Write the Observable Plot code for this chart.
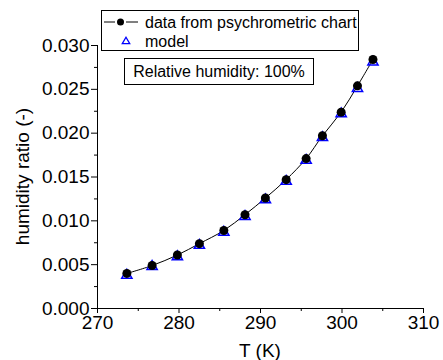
<!DOCTYPE html>
<html>
<head>
<meta charset="utf-8">
<script src="https://cdn.jsdelivr.net/npm/d3@7"></script>
<script src="https://cdn.jsdelivr.net/npm/@observablehq/plot@0.6"></script>
<style>
html, body { margin: 0; padding: 0; background: #fff; }
</style>
</head>
<body>
<div id="chart"></div>
<script>
// Data
const temperatures = [273.6, 276.7, 279.8, 282.5, 285.5, 288.1, 290.6, 293.15, 295.6, 297.6, 299.9, 301.9, 303.8];
const chartRatio   = [0.0040, 0.0049, 0.0061, 0.0074, 0.0089, 0.0107, 0.0126, 0.0147, 0.0171, 0.0197, 0.0224, 0.0254, 0.0284];
const modelRatio   = [0.0038, 0.0048, 0.0059, 0.0072, 0.0087, 0.0105, 0.0124, 0.0145, 0.0169, 0.0195, 0.0222, 0.0251, 0.0281];
const xTicks = [270, 280, 290, 300, 310];
const xMinor = [275, 285, 295, 305];
const yTicks = [0, 0.005, 0.010, 0.015, 0.020, 0.025, 0.030];
const yMinor = [0.0025, 0.0075, 0.0125, 0.0175, 0.0225, 0.0275];
const legendLabels = ["data from psychrometric chart", "model"];
const annotation = "Relative humidity: 100%";
const xLabel = "T (K)";
const yLabel = "humidity ratio (-)";

const chartData = temperatures.map((t, i) => ({T: t, w: chartRatio[i]}));
const modelData = temperatures.map((t, i) => ({T: t, w: modelRatio[i]}));

const font = "'Liberation Sans', Arial, sans-serif";

function overlay(index, scales, values, dims) {
  const g = d3.create("svg:g").attr("font-family", font).attr("fill", "black");
  // Legend box
  g.append("rect").attr("x", 101.5).attr("y", 10.5).attr("width", 257).attr("height", 40)
    .attr("fill", "white").attr("stroke", "black").attr("stroke-width", 1);
  g.append("line").attr("x1", 104).attr("x2", 115).attr("y1", 22).attr("y2", 22)
    .attr("stroke", "black").attr("stroke-width", 1);
  g.append("line").attr("x1", 126).attr("x2", 138).attr("y1", 22).attr("y2", 22)
    .attr("stroke", "black").attr("stroke-width", 1);
  g.append("circle").attr("cx", 120.5).attr("cy", 22).attr("r", 3.5).attr("fill", "black");
  g.append("path").attr("d", d3.symbol(d3.symbolTriangle, 24)()).attr("transform", "translate(126,41.5)")
    .attr("fill", "none").attr("stroke", "#0000ff").attr("stroke-width", 1.3);
  g.append("text").attr("x", 145).attr("y", 22).attr("dy", "0.35em").attr("text-anchor", "start")
    .attr("font-size", 16).text(legendLabels[0]);
  g.append("text").attr("x", 145).attr("y", 41).attr("dy", "0.35em").attr("text-anchor", "start")
    .attr("font-size", 16).text(legendLabels[1]);
  // Annotation box
  g.append("rect").attr("x", 124.5).attr("y", 58.5).attr("width", 189).attr("height", 26)
    .attr("fill", "white").attr("stroke", "black").attr("stroke-width", 1);
  g.append("text").attr("x", 219).attr("y", 71.5).attr("dy", "0.35em").attr("text-anchor", "middle")
    .attr("font-size", 16).text(annotation);
  // Axis titles
  g.append("text").attr("x", (dims.marginLeft + dims.width - dims.marginRight) / 2).attr("y", 350)
    .attr("dy", "0.35em").attr("text-anchor", "middle").attr("font-size", 19).text(xLabel);
  g.append("text").attr("transform", `translate(22,${(dims.marginTop + dims.height - dims.marginBottom) / 2}) rotate(-90)`)
    .attr("dy", "0.35em").attr("text-anchor", "middle").attr("font-size", 19).text(yLabel);
  return g.node();
}

const plot = Plot.plot({
  width: 443,
  height: 360,
  marginLeft: 97,
  marginRight: 20,
  marginTop: 45,
  marginBottom: 52,
  style: {fontFamily: font, fontSize: "19px", color: "black", background: "white", overflow: "visible"},
  x: {domain: [270, 310]},
  y: {domain: [0, 0.030]},
  marks: [
    Plot.axisX({ticks: xTicks, tickSize: 5, tickPadding: 2, tickFormat: d3.format("d"), label: null, fontSize: 19}),
    Plot.axisX({ticks: xMinor, tickSize: 3, tickFormat: () => "", label: null}),
    Plot.axisY({ticks: yTicks, tickSize: 6, tickPadding: 2, tickFormat: d3.format(".3f"), label: null, fontSize: 19}),
    Plot.axisY({ticks: yMinor, tickSize: 3, tickFormat: () => "", label: null}),
    Plot.ruleX([270], {stroke: "black", strokeWidth: 1}),
    Plot.ruleY([0], {stroke: "black", strokeWidth: 1}),
    Plot.line(chartData, {x: "T", y: "w", curve: "catmull-rom", stroke: "black", strokeWidth: 1}),
    Plot.dot(modelData, {x: "T", y: "w", symbol: "triangle", r: 3.8, stroke: "#0000ff", strokeWidth: 1.5, fill: "none"}),
    Plot.dot(chartData, {x: "T", y: "w", r: 4.5, fill: "black", stroke: "none"}),
    overlay
  ]
});
document.getElementById("chart").appendChild(plot);
</script>
</body>
</html>
